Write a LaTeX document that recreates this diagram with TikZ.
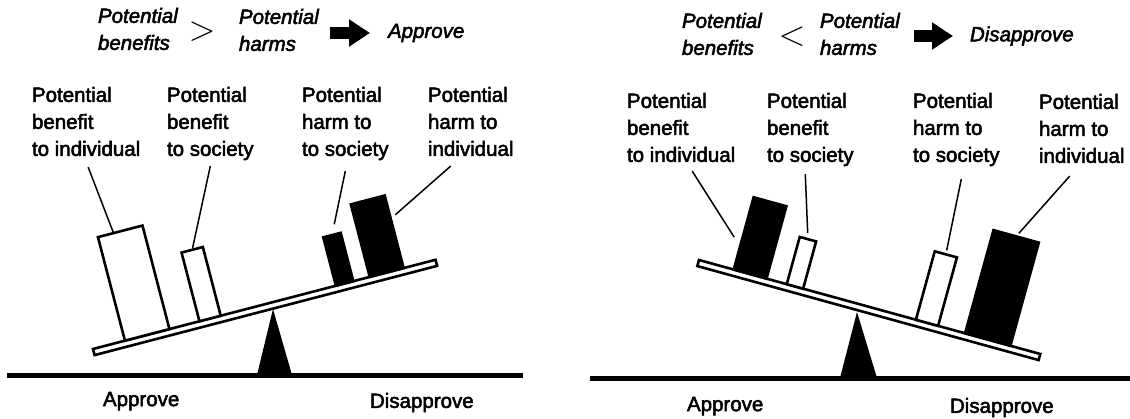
\documentclass[tikz,border=0pt]{standalone}
\usepackage{fontspec}
\setmainfont{Liberation Sans}[UprightFeatures={FakeBold=2.5},ItalicFeatures={FakeBold=2.5}]
\usepackage{tikz}
\usetikzlibrary{arrows.meta, calc, positioning}

\begin{document}
\begin{tikzpicture}[x=1pt,y=1pt,inner sep=0pt,outer sep=0pt,
  font=\fontsize{20.5}{27}\selectfont]
  \tikzstyle{label}=[align=left,anchor=north west]
  \tikzstyle{formula}=[label,font=\fontsize{20.5}{27}\selectfont\itshape]
  \tikzstyle{plank}=[draw,line width=2.6pt,fill=white,minimum width=354pt,minimum height=6.3pt,anchor=north west]
  \tikzstyle{lightbox}=[draw,line width=2.6pt,fill=white,anchor=south west]
  \tikzstyle{darkbox}=[draw,line width=2.6pt,fill=black,anchor=south west]
  \tikzstyle{leader}=[line width=1.5pt]
  \tikzstyle{ground}=[line width=5pt]
  \tikzstyle{fatarrow}=[line width=12pt,-{Triangle[length=21pt,width=26pt]}]

  \useasboundingbox (0,0) rectangle (1130,418);

  % left side: benefits outweigh harms
  \node[formula] (lben)   at (98,410)  {Potential\\benefits};
  \node          (lgt)    at (202,386) {\scalebox{1.7}{$>$}};
  \node[formula] (lharms) at (239,409) {Potential\\harms};
  \node[formula,anchor=west] (lappr) at (388,385) {Approve};
  \draw[fatarrow,shorten <=11pt,shorten >=18pt] (lharms.east |- lappr.west) -- (lappr.west);

  \node[label] (l1) at (32,331)  {Potential\\benefit\\to individual};
  \node[label] (l2) at (167,331) {Potential\\benefit\\to society};
  \node[label] (l3) at (302,331) {Potential\\harm to\\to society};
  \node[label] (l4) at (428,331) {Potential\\harm to\\individual};

  \draw[ground] (7,43) -- (523,43);
  \fill (257,43) -- (273,109) -- (292,43) -- cycle;
  \node[plank,rotate=14.6] (lplank) at (93,69) {};

  \node[lightbox,rotate=14.6,minimum width=46pt,minimum height=107pt] (lb1)
    at ($(lplank.north west)!33pt!(lplank.north east)$) {};
  \node[lightbox,rotate=14.6,minimum width=22pt,minimum height=71pt] (lb2)
    at ($(lplank.north west)!110pt!(lplank.north east)$) {};
  \node[darkbox,rotate=14.6,minimum width=18pt,minimum height=50pt] (lb3)
    at ($(lplank.north west)!251pt!(lplank.north east)$) {};
  \node[darkbox,rotate=14.6,minimum width=35pt,minimum height=75pt] (lb4)
    at ($(lplank.north west)!286pt!(lplank.north east)$) {};

  \draw[leader] ([xshift=2pt,yshift=-11pt]l1.south) -- ($(lb1.north west)!0.35!(lb1.north east)$);
  \draw[leader,shorten >=2pt] ([yshift=-6pt]l2.south) -- (lb2.north);
  \draw[leader,shorten >=11pt] ([yshift=-11pt]l3.south) -- (lb3.north);
  \draw[leader,shorten >=6pt] ([xshift=-20pt,yshift=-10pt]l4.south) -- ($(lb4.north east)!0.32!(lb4.south east)$);

  \node[label] (lyes) at (103,26) {Approve};
  \node[label] (lno)  at (370,25) {Disapprove};

  % right side: harms outweigh benefits
  \node[formula] (rben)   at (682,405) {Potential\\benefits};
  \node          (rlt)    at (792,381) {\scalebox{1.7}{$<$}};
  \node[formula] (rharms) at (820,405) {Potential\\harms};
  \node[formula,anchor=west] (rdis) at (970,382) {Disapprove};
  \draw[fatarrow,shorten <=14pt,shorten >=17pt] (rharms.east |- rdis.west) -- (rdis.west);

  \node[label] (r1) at (627,325)  {Potential\\benefit\\to individual};
  \node[label] (r2) at (767,325)  {Potential\\benefit\\to society};
  \node[label] (r3) at (913,325)  {Potential\\harm to\\to society};
  \node[label] (r4) at (1039,324) {Potential\\harm to\\individual};

  \draw[ground] (590,40) -- (1130,40);
  \fill (840,40) -- (857,106) -- (877,40) -- cycle;
  \node[plank,rotate=-15.4] (rplank) at (699,158) {};

  \node[darkbox,rotate=-15.4,minimum width=34pt,minimum height=75pt] (rb1)
    at ($(rplank.north west)!36pt!(rplank.north east)$) {};
  \node[lightbox,rotate=-15.4,minimum width=17pt,minimum height=49pt] (rb2)
    at ($(rplank.north west)!91pt!(rplank.north east)$) {};
  \node[lightbox,rotate=-15.4,minimum width=23pt,minimum height=71pt] (rb3)
    at ($(rplank.north west)!225pt!(rplank.north east)$) {};
  \node[darkbox,rotate=-15.4,minimum width=47pt,minimum height=107pt] (rb4)
    at ($(rplank.north west)!276pt!(rplank.north east)$) {};

  \draw[leader,shorten >=11pt] ([xshift=11pt,yshift=-9pt]r1.south) -- ($(rb1.north west)!0.68!(rb1.south west)$);
  \draw[leader,shorten >=6pt] ([xshift=-5pt,yshift=-8pt]r2.south) -- (rb2.north);
  \draw[leader,shorten >=4pt] ([xshift=5pt,yshift=-13pt]r3.south) -- (rb3.north);
  \draw[leader,shorten >=4pt] ([xshift=-12pt,yshift=-13pt]r4.south) -- (rb4.north);

  \node[label] (ryes) at (687,21) {Approve};
  \node[label] (rno)  at (950,20) {Disapprove};
\end{tikzpicture}
\end{document}
